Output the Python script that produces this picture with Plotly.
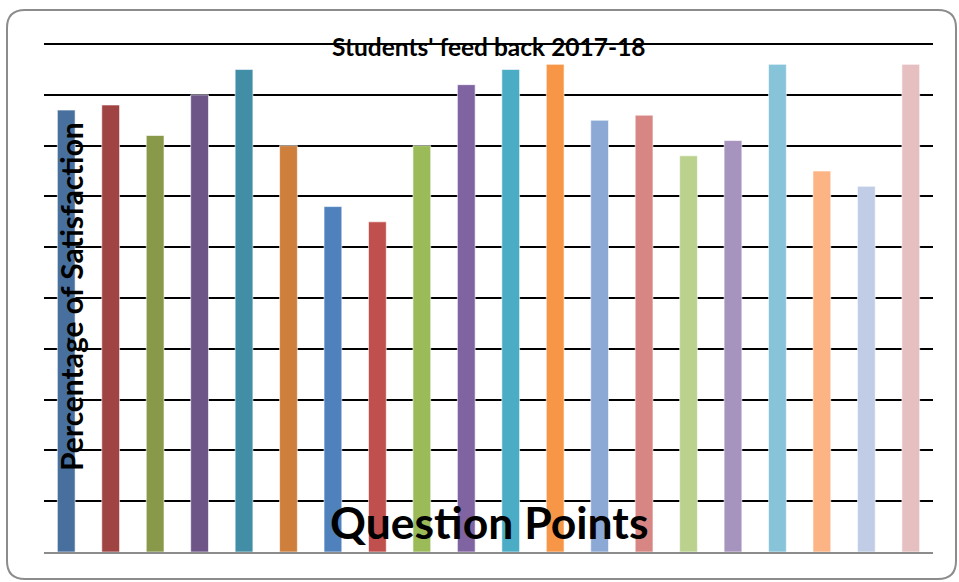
import plotly.graph_objects as go

# ---- data ----
categories = [f"Q{i}" for i in range(1, 21)]
satisfaction = [87, 88, 82, 90, 95, 80, 68, 65, 80, 92,
                95, 96, 85, 86, 78, 81, 96, 75, 72, 96]
bar_colors = ["#48709F", "#A04443", "#88994A", "#6D5587", "#428EA6", "#CF7F3C",
              "#4F81BD", "#C0504D", "#9BBB59", "#8064A2", "#4BACC6", "#F79646",
              "#8CA8D5", "#D78684", "#BBD28F", "#A694BE", "#87C4D9", "#FDB485",
              "#C1CDE6", "#E6C0C0"]
title_text = "Students' feed back 2017-18"
x_title = "Question Points"
y_title = "Percentage of Satisfaction"
y_ticks = list(range(0, 101, 10))
y_max = 100.4

W, H = 959, 582
L, R, T, B = 44, 26, 42, 30
pw, ph = W - L - R, H - T - B

def px(x):
    return (x - L) / pw

def py(y):
    return (H - B - y) / ph

fig = go.Figure()
fig.add_trace(go.Bar(
    x=categories, y=satisfaction,
    marker=dict(color=bar_colors, line=dict(color="rgba(255,255,255,0.6)", width=1)),
    width=0.4,
    hoverinfo="x+y",
))

# rounded frame
x0, x1, y0, y1, r = 7, 956, 10, 579, 18
path = (f"M {px(x0+r)} {py(y0)} L {px(x1-r)} {py(y0)} Q {px(x1)} {py(y0)} {px(x1)} {py(y0+r)} "
        f"L {px(x1)} {py(y1-r)} Q {px(x1)} {py(y1)} {px(x1-r)} {py(y1)} "
        f"L {px(x0+r)} {py(y1)} Q {px(x0)} {py(y1)} {px(x0)} {py(y1-r)} "
        f"L {px(x0)} {py(y0+r)} Q {px(x0)} {py(y0)} {px(x0+r)} {py(y0)} Z")
fig.add_shape(type="path", path=path, xref="paper", yref="paper",
              line=dict(color="#8C8C8C", width=2), layer="below")

font_family = "Lato, 'Open Sans', sans-serif"
fig.add_annotation(text=f"<b>{title_text}</b>", x=0.5, y=py(47), xref="paper", yref="paper",
                   showarrow=False, xanchor="center", yanchor="middle",
                   font=dict(family=font_family, size=24.5, color="#000"))
fig.add_annotation(text=f"<b>{x_title}</b>", x=0.5, y=py(521), xref="paper", yref="paper",
                   showarrow=False, xanchor="center", yanchor="middle",
                   font=dict(family=font_family, size=44.5, color="#000"))
fig.add_annotation(text=f"<b>{y_title}</b>", x=px(71), y=py(297), xref="paper", yref="paper",
                   showarrow=False, xanchor="center", yanchor="middle", textangle=-90,
                   font=dict(family=font_family, size=30, color="#000"))

fig.update_layout(
    width=W, height=H,
    margin=dict(l=L, r=R, t=T, b=B),
    paper_bgcolor="white", plot_bgcolor="white",
    showlegend=False,
    bargap=0.6,
    xaxis=dict(showticklabels=False, ticks="", showgrid=False, zeroline=False,
               showline=True, linecolor="#8C8C8C", linewidth=2),
    yaxis=dict(range=[0, y_max], tickvals=y_ticks, showticklabels=False, ticks="",
               showgrid=True, gridcolor="#000000", gridwidth=2, zeroline=False,
               showline=False),
)

fig.write_html("out.html", config={"displayModeBar": False},
               post_script="document.body.style.margin='0';document.body.style.overflow='hidden';")
